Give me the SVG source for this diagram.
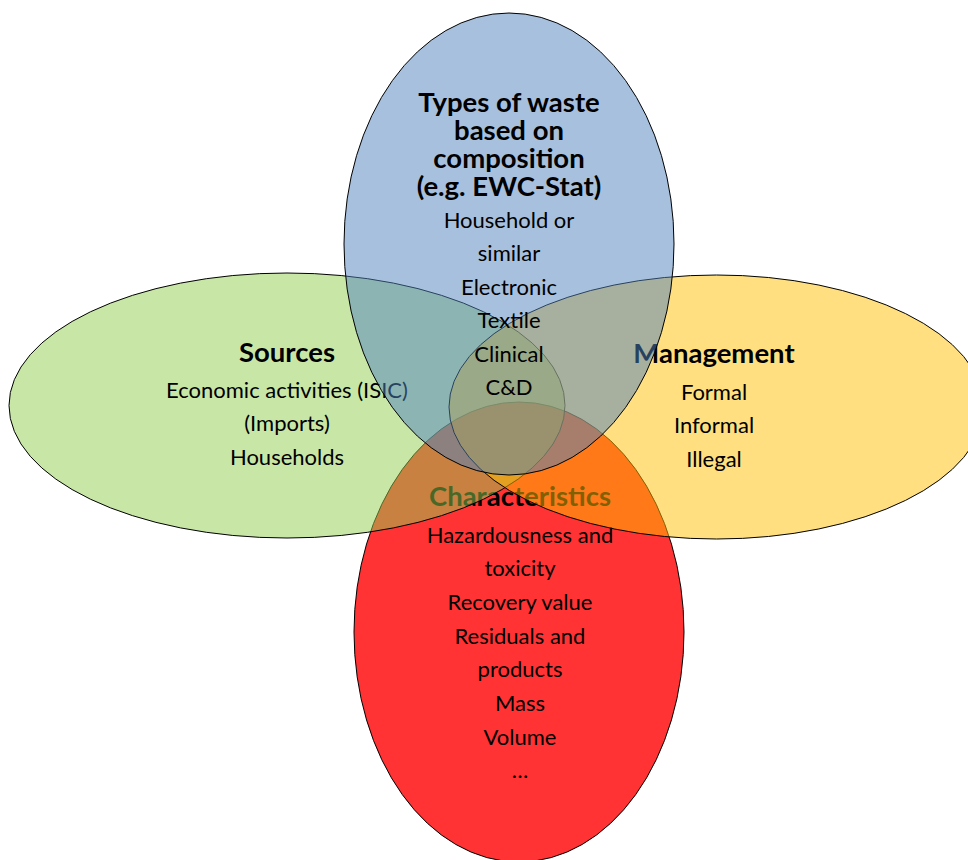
<svg xmlns="http://www.w3.org/2000/svg" width="968" height="860" viewBox="0 0 968 860">
<style>
.sh{stroke:#000;stroke-width:1}
.t{font-family:Lato,"Liberation Sans",sans-serif;font-size:22px;fill:#000;text-anchor:middle}
.h{font-family:Lato,"Liberation Sans",sans-serif;font-size:27.5px;font-weight:bold;fill:#000;text-anchor:middle}
</style>
<rect width="968" height="860" fill="#fff"/>
<g id="characteristics">
<ellipse class="sh" cx="519" cy="632" rx="165" ry="230" fill="#FF3333"/>
<text class="h" x="520" y="506">Characteristics</text>
<text class="t" x="520" y="543">Hazardousness and</text>
<text class="t" x="520" y="576">toxicity</text>
<text class="t" x="520" y="610">Recovery value</text>
<text class="t" x="520" y="644">Residuals and</text>
<text class="t" x="520" y="677">products</text>
<text class="t" x="520" y="711">Mass</text>
<text class="t" x="520" y="745">Volume</text>
<text class="t" x="520" y="778">…</text>
</g>
<g id="sources">
<ellipse class="sh" cx="287" cy="405.5" rx="278" ry="132.5" fill="#92D050" fill-opacity="0.5"/>
<text class="h" x="287" y="362">Sources</text>
<text class="t" x="287" y="398">Economic activities (ISIC)</text>
<text class="t" x="287" y="431">(Imports)</text>
<text class="t" x="287" y="465">Households</text>
</g>
<g id="management">
<ellipse class="sh" cx="716.5" cy="407" rx="267.5" ry="132" fill="#FFC000" fill-opacity="0.5"/>
<text class="h" x="714" y="363">Management</text>
<text class="t" x="714" y="400">Formal</text>
<text class="t" x="714" y="433">Informal</text>
<text class="t" x="714" y="467">Illegal</text>
</g>
<g id="types">
<ellipse class="sh" cx="509" cy="244" rx="165" ry="231" fill="#4F81BD" fill-opacity="0.5"/>
<text class="h" x="509" y="112"><tspan x="509" y="112">Types of waste</tspan><tspan x="509" y="140">based on</tspan><tspan x="509" y="168">composition</tspan><tspan x="509" y="196">(e.g. EWC-Stat)</tspan></text>
<text class="t" x="509" y="228">Household or</text>
<text class="t" x="509" y="261">similar</text>
<text class="t" x="509" y="295">Electronic</text>
<text class="t" x="509" y="328">Textile</text>
<text class="t" x="509" y="362">Clinical</text>
<text class="t" x="509" y="395">C&amp;D</text>
</g>
<g id="connectors"/>
</svg>
